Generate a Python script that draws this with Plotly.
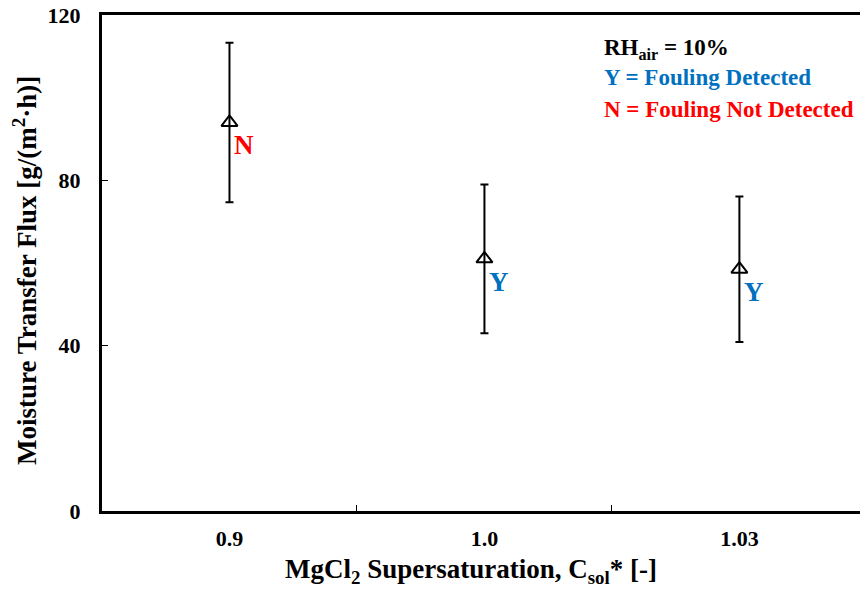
import plotly.graph_objects as go

categories = ["0.9", "1.0", "1.03"]
flux = [94.0, 61.0, 58.5]
flux_err = [19.3, 18.0, 17.6]
fouling_labels = ["N", "Y", "Y"]
label_colors = ["#FF0000", "#0070C0", "#0070C0"]
y_ticks = [0, 40, 80, 120]

FONT = "Liberation Serif"

fig = go.Figure()
fig.add_trace(go.Scatter(
    x=categories, y=flux, mode="markers",
    marker=dict(symbol="triangle-up-open", size=14, color="black",
                line=dict(width=2, color="black")),
    error_y=dict(type="data", array=flux_err, visible=True,
                 color="black", thickness=2, width=4),
    showlegend=False,
))

for i, (v, t, col) in enumerate(zip(flux, fouling_labels, label_colors)):
    fig.add_annotation(x=i, y=v, text="<b>%s</b>" % t, showarrow=False,
                       xanchor="left", yanchor="middle", xshift=3, yshift=-23,
                       font=dict(family=FONT, size=27, color=col))

legend_lines = [
    ("<b>RH<sub>air</sub> = 10%</b>", "black", 0.931),
    ("<b>Y = Fouling Detected</b>", "#0070C0", 0.873),
    ("<b>N = Fouling Not Detected</b>", "#FF0000", 0.810),
]
for txt, col, yp in legend_lines:
    fig.add_annotation(x=0.66, y=yp, xref="paper", yref="paper", text=txt,
                       showarrow=False, xanchor="left", yanchor="middle",
                       font=dict(family=FONT, size=23, color=col))

# axis titles
fig.add_annotation(x=0.487, y=-0.121, xref="paper", yref="paper",
                   text="<b>MgCl<sub>2</sub> Supersaturation, C<sub>sol</sub>* [-]</b>",
                   showarrow=False, xanchor="center", yanchor="middle",
                   font=dict(family=FONT, size=27, color="black"))
fig.add_annotation(x=-0.1016, y=0.486, xref="paper", yref="paper",
                   text="<b>Moisture Transfer Flux [g/(m<sup>2</sup>·h)]</b>",
                   showarrow=False, xanchor="center", yanchor="middle", textangle=-90,
                   font=dict(family=FONT, size=27, color="black"))

fig.update_layout(
    width=860, height=590,
    margin=dict(l=102, r=0, t=15, b=79),
    plot_bgcolor="white", paper_bgcolor="white",
    font=dict(family=FONT, color="black"),
    xaxis=dict(
        type="category", range=[-0.5, 2.473],
        showline=True, linecolor="black", linewidth=3, mirror=True,
        ticks="inside", tickson="boundaries", ticklen=6, tickwidth=1, tickcolor="black",
        showgrid=False, zeroline=False,
        tickfont=dict(family=FONT, size=22, color="black", weight="bold"),
        ticklabelstandoff=6,
    ),
    yaxis=dict(
        range=[0, 120], tickvals=y_ticks,
        showline=True, linecolor="black", linewidth=3, mirror=False,
        ticks="inside", ticklen=6, tickwidth=1, tickcolor="black",
        showgrid=False, zeroline=False,
        tickfont=dict(family=FONT, size=22, color="black", weight="bold"),
        ticklabelstandoff=14,
    ),
)

fig.write_html("out.html")
